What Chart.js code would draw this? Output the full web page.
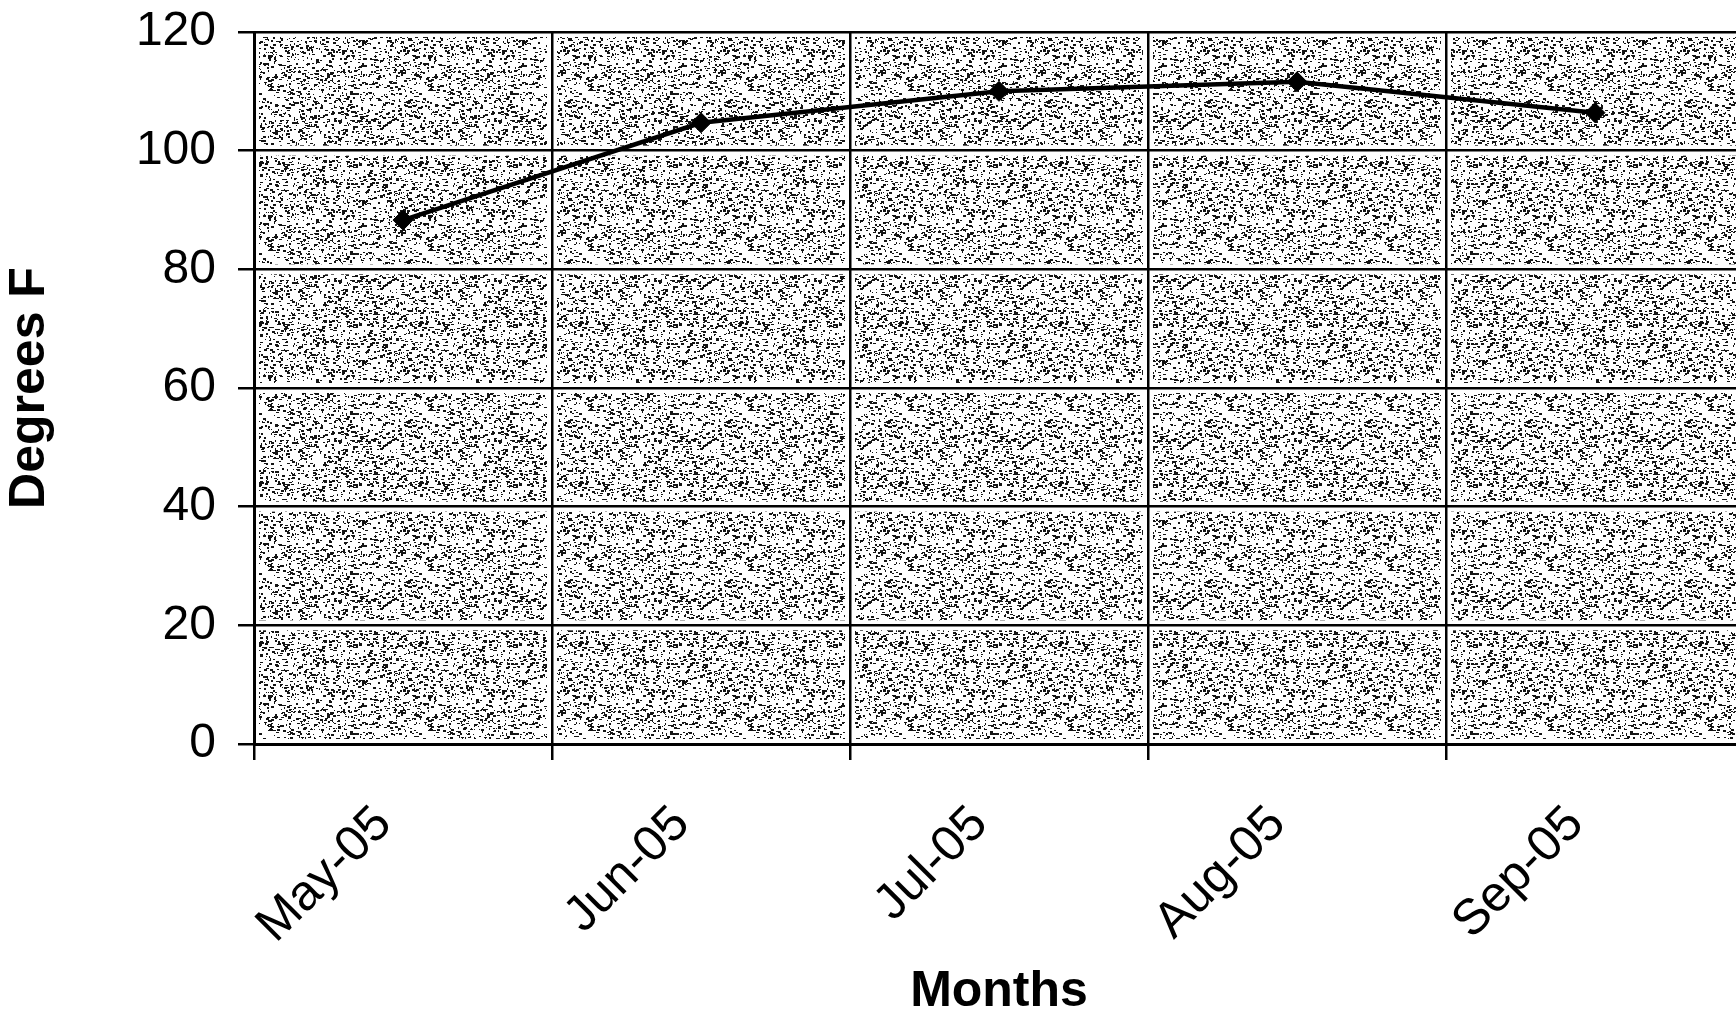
<!DOCTYPE html>
<html>
<head>
<meta charset="utf-8">
<script src="https://cdn.jsdelivr.net/npm/chart.js@4"></script>
<style>
  html, body { margin: 0; padding: 0; background: #fff; overflow: hidden; }
  #wrap { width: 1760px; height: 1027px; }
</style>
</head>
<body>
<div id="wrap"><canvas id="tempChart" width="1760" height="1027"></canvas></div>
<script>
// chart data
var months = ['May-05', 'Jun-05', 'Jul-05', 'Aug-05', 'Sep-05'];
var degrees = [88.3, 104.7, 110.0, 111.6, 106.4];
var yMin = 0, yMax = 120, yStep = 20;

// speckled scan-like texture for the plot cells
function makeSpeckle() {
    var c = document.createElement('canvas');
    c.width = 160; c.height = 160;
    var g = c.getContext('2d');
    g.fillStyle = '#ffffff';
    g.fillRect(0, 0, 160, 160);
    g.fillStyle = '#141414';
    var s = 12345;
    function next() { s = (s * 1103515245 + 12345) % 2147483648; return s / 2147483648; }
    for (var i = 0; i < 2250; i++) {
        var x = Math.floor(next() * 160), y = Math.floor(next() * 160);
        var w = 1 + Math.floor(next() * 3), h = 1 + Math.floor(next() * 2);
        g.fillRect(x, y, w, h);
    }
    return c;
}

var speckle = makeSpeckle();

var cellFill = {
    id: 'cellFill',
    beforeDraw: function (chart) {
        var a = chart.chartArea, ys = chart.scales.y, ctx = chart.ctx;
        var pat = ctx.createPattern(speckle, 'repeat');
        var n = months.length, cw = (a.right - a.left) / n;
        ctx.save();
        ctx.fillStyle = pat;
        for (var i = 0; i < n; i++) {
            for (var v = yMin; v < yMax; v += yStep) {
                var top = ys.getPixelForValue(v + yStep), bot = ys.getPixelForValue(v);
                ctx.fillRect(a.left + i * cw + 5, top + 5, cw - 10, bot - top - 10);
            }
        }
        ctx.restore();
    }
};

var ctx = document.getElementById('tempChart').getContext('2d');
var tempChart = new Chart(ctx, {
    type: 'line',
    data: {
        labels: months,
        datasets: [{
            data: degrees,
            borderColor: '#000',
            borderWidth: 4.5,
            tension: 0,
            pointStyle: 'rectRot',
            pointRadius: 10,
            pointBackgroundColor: '#000',
            pointBorderColor: '#000',
            pointBorderWidth: 1
        }]
    },
    options: {
        responsive: false,
        animation: false,
        events: [],
        layout: { padding: { top: 32, right: 16, bottom: 0, left: 0 } },
        plugins: {
            legend: { display: false },
            tooltip: { enabled: false }
        },
        scales: {
            x: {
                offset: true,
                grid: { offset: true, color: '#000', lineWidth: 2.5, tickLength: 16 },
                border: { color: '#000', width: 3 },
                ticks: {
                    color: '#000',
                    font: { family: 'Liberation Sans, Arial', size: 50 },
                    maxRotation: 45,
                    minRotation: 45,
                    padding: 35,
                    labelOffset: -19
                },
                title: {
                    display: true,
                    text: 'Months',
                    color: '#000',
                    font: { family: 'Liberation Sans, Arial', size: 50, weight: 'bold' },
                    padding: { top: 0, bottom: 5 }
                },
                afterFit: function (scale) {
                    scale.height = 1027 - 744;
                    scale.paddingLeft = 0;
                    scale.paddingRight = 0;
                }
            },
            y: {
                min: yMin,
                max: yMax,
                grid: { color: '#000', lineWidth: 2.5, tickLength: 16 },
                border: { color: '#000', width: 3 },
                ticks: {
                    stepSize: yStep,
                    color: '#000',
                    font: { family: 'Liberation Sans, Arial', size: 48 },
                    padding: 22
                },
                title: {
                    display: true,
                    text: 'Degrees F',
                    color: '#000',
                    font: { family: 'Liberation Sans, Arial', size: 50, weight: 'bold' },
                    padding: { top: 0, bottom: 0 }
                },
                afterFit: function (scale) {
                    scale.width = 254;
                    scale.paddingTop = 0;
                    scale.paddingBottom = 0;
                }
            }
        }
    },
    plugins: [cellFill]
});
</script>
</body>
</html>
